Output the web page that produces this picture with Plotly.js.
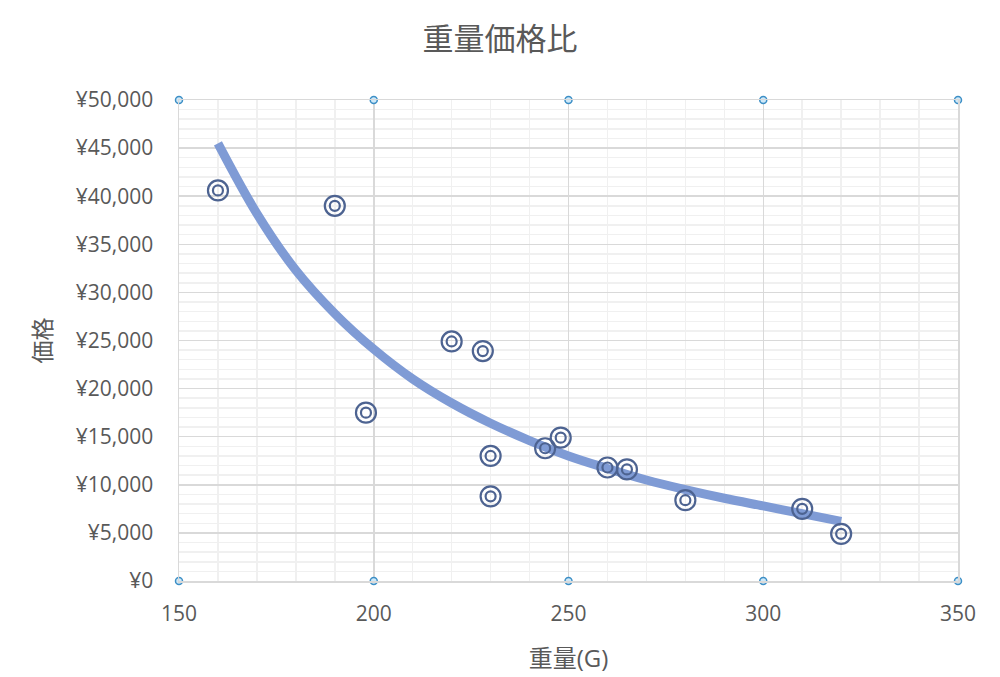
<!DOCTYPE html>
<html>
<head>
<meta charset="utf-8">
<script src="https://cdn.plot.ly/plotly-3.0.1.min.js"></script>
<style>
  html, body { margin: 0; padding: 0; background: #fff; }
  #chart { width: 1000px; height: 677px; }
</style>
</head>
<body>
<div id="chart"></div>
<script>
// ── data ──────────────────────────────────────────────────────────────────
const weights = [160, 190, 198, 220, 228, 230, 230, 244, 248, 260, 265, 280, 310, 320];
const prices  = [40600, 39000, 17500, 24900, 23900, 13000, 8800, 13800, 14900, 11800, 11600, 8400, 7500, 4900];

// trend line, sampled by eye along the drawn curve
const trendX = [160, 170, 180, 190, 200, 210, 220, 230, 240, 250, 260, 270, 280, 290, 300, 310, 320];
const trendY = [45500, 38200, 32300, 27800, 24100, 21000, 18500, 16400, 14600, 13000, 11700, 10500, 9500, 8600, 7800, 7000, 6200];

// selection handles along the top and bottom edge of the plot area
const handleX = [150, 200, 250, 300, 350, 150, 200, 250, 300, 350];
const handleY = [50000, 50000, 50000, 50000, 50000, 0, 0, 0, 0, 0];

const FONT = '"Open Sans", "Noto Sans CJK JP", sans-serif';
const TEXT = '#595959';
const MARK = '#4d6391';

const traces = [
  {
    x: trendX, y: trendY,
    mode: 'lines',
    line: {color: '#7f9bd5', width: 9, shape: 'spline'},
    hoverinfo: 'skip',
  },
  // outer ring
  {
    x: weights, y: prices,
    mode: 'markers',
    marker: {symbol: 'circle-open', size: 20, color: MARK, line: {width: 2.2, color: MARK}},
  },
  // inner ring
  {
    x: weights, y: prices,
    mode: 'markers',
    marker: {symbol: 'circle-open', size: 10, color: MARK, line: {width: 2.2, color: MARK}},
  },
  {
    x: handleX, y: handleY,
    mode: 'markers',
    cliponaxis: false,
    marker: {symbol: 'circle', size: 7, color: '#cfe9f8', line: {width: 1.5, color: '#3d8fc6'}},
    hoverinfo: 'skip',
  },
];

const layout = {
  width: 1000,
  height: 677,
  margin: {l: 179, r: 42, t: 100, b: 96},
  paper_bgcolor: '#fff',
  plot_bgcolor: '#fff',
  showlegend: false,
  font: {family: FONT, color: TEXT, size: 21},
  title: {
    text: '重量価格比',
    font: {family: FONT, size: 31, color: TEXT},
    x: 0.5, xanchor: 'center',
    y: 0.942, yanchor: 'middle',
  },
  xaxis: {
    range: [150, 350],
    dtick: 50,
    tick0: 150,
    showgrid: true,
    gridcolor: '#d9d9d9',
    gridwidth: 1.5,
    zeroline: false,
    showline: true,
    linecolor: '#d9d9d9',
    linewidth: 1.5,
    mirror: true,
    ticks: '',
    ticklabelstandoff: 13,
    minor: {dtick: 10, showgrid: true, gridcolor: '#f0f0f0', gridwidth: 1.5},
    title: {text: '重量(G)', font: {family: FONT, size: 24, color: TEXT}, standoff: 24},
  },
  yaxis: {
    range: [0, 50000],
    dtick: 5000,
    tickprefix: '¥',
    tickformat: ',d',
    showgrid: true,
    gridcolor: '#d9d9d9',
    gridwidth: 1.5,
    zeroline: false,
    showline: true,
    linecolor: '#d9d9d9',
    linewidth: 1.5,
    mirror: true,
    ticks: '',
    ticklabelstandoff: 20,
    minor: {dtick: 1000, showgrid: true, gridcolor: '#f0f0f0', gridwidth: 1.5},
    title: {text: '価格', font: {family: FONT, size: 23, color: TEXT}, standoff: 18},
  },
};

Plotly.newPlot('chart', traces, layout, {displayModeBar: false, staticPlot: true});
</script>
</body>
</html>
